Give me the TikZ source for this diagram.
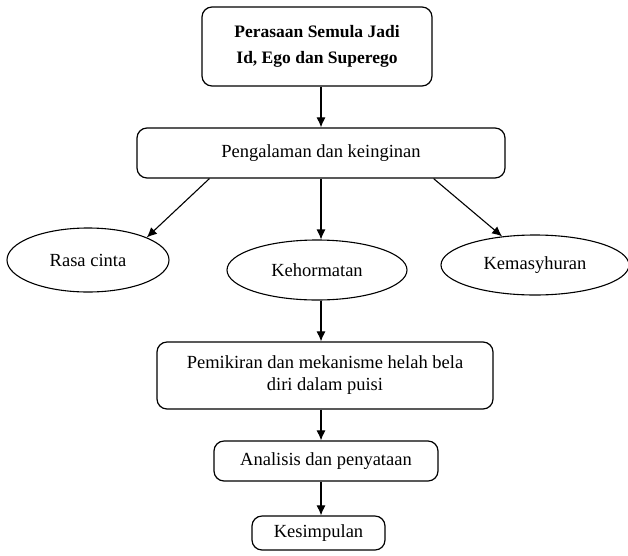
\documentclass[tikz,border=0pt]{standalone}
\usepackage{fontspec}
\setmainfont{Liberation Serif}
\usetikzlibrary{shapes.geometric,arrows.meta,calc}
\tikzset{
  box/.style={draw, line width=1.2pt, rounded corners=10pt, inner sep=0pt, align=center,
    font=\fontsize{18.5}{22}\selectfont},
  oval/.style={draw, ellipse, line width=1.1pt, inner sep=0pt,
    font=\fontsize{18.5}{22}\selectfont},
  arr/.style={line width=1.1pt, -{Latex[length=10pt,width=9pt]}}
}
\begin{document}
\begin{tikzpicture}[x=1pt,y=-1pt]
\useasboundingbox (0,0) rectangle (628,555);
\node[box, minimum width=230, minimum height=79,
  font=\fontsize{17.5}{26}\selectfont\bfseries] (top) at (317,46.5)
  {Perasaan Semula Jadi\\Id, Ego dan Superego};
\node[box, minimum width=368, minimum height=50] (b2) at (321,153) {Pengalaman dan keinginan};
\node[oval, minimum width=162, minimum height=64] (rasa) at (88,260) {Rasa cinta};
\node[oval, minimum width=180, minimum height=60] (keh) at (317,270) {Kehormatan};
\node[oval, minimum width=188, minimum height=60] (kem) at (535,265) {Kemasyhuran};
\node[box, minimum width=336, minimum height=67] (pem) at (325,375.5)
  {Pemikiran dan mekanisme helah bela\\diri dalam puisi};
\node[box, minimum width=224, minimum height=40] (ana) at (326,461) {Analisis dan penyataan};
\node[box, minimum width=133, minimum height=34] (kes) at (318.5,533) {Kesimpulan};

\coordinate (bl) at ($(b2.south west)+(73,0)$);
\coordinate (br) at ($(b2.south east)+(-72,0)$);
\draw[arr] (top.south -| b2.north) -- (b2.north);
\draw[arr] (bl) -- (rasa.21);
\draw[arr] (b2.south) -- (b2.south |- keh.north);
\draw[arr] (br) -- (kem.139);
\draw[arr] (keh.south -| b2.south) -- (pem.north -| b2.south);
\draw[arr] (pem.south -| b2.south) -- (ana.north -| b2.south);
\draw[arr] (ana.south -| b2.south) -- (kes.north -| b2.south);
\end{tikzpicture}
\end{document}
